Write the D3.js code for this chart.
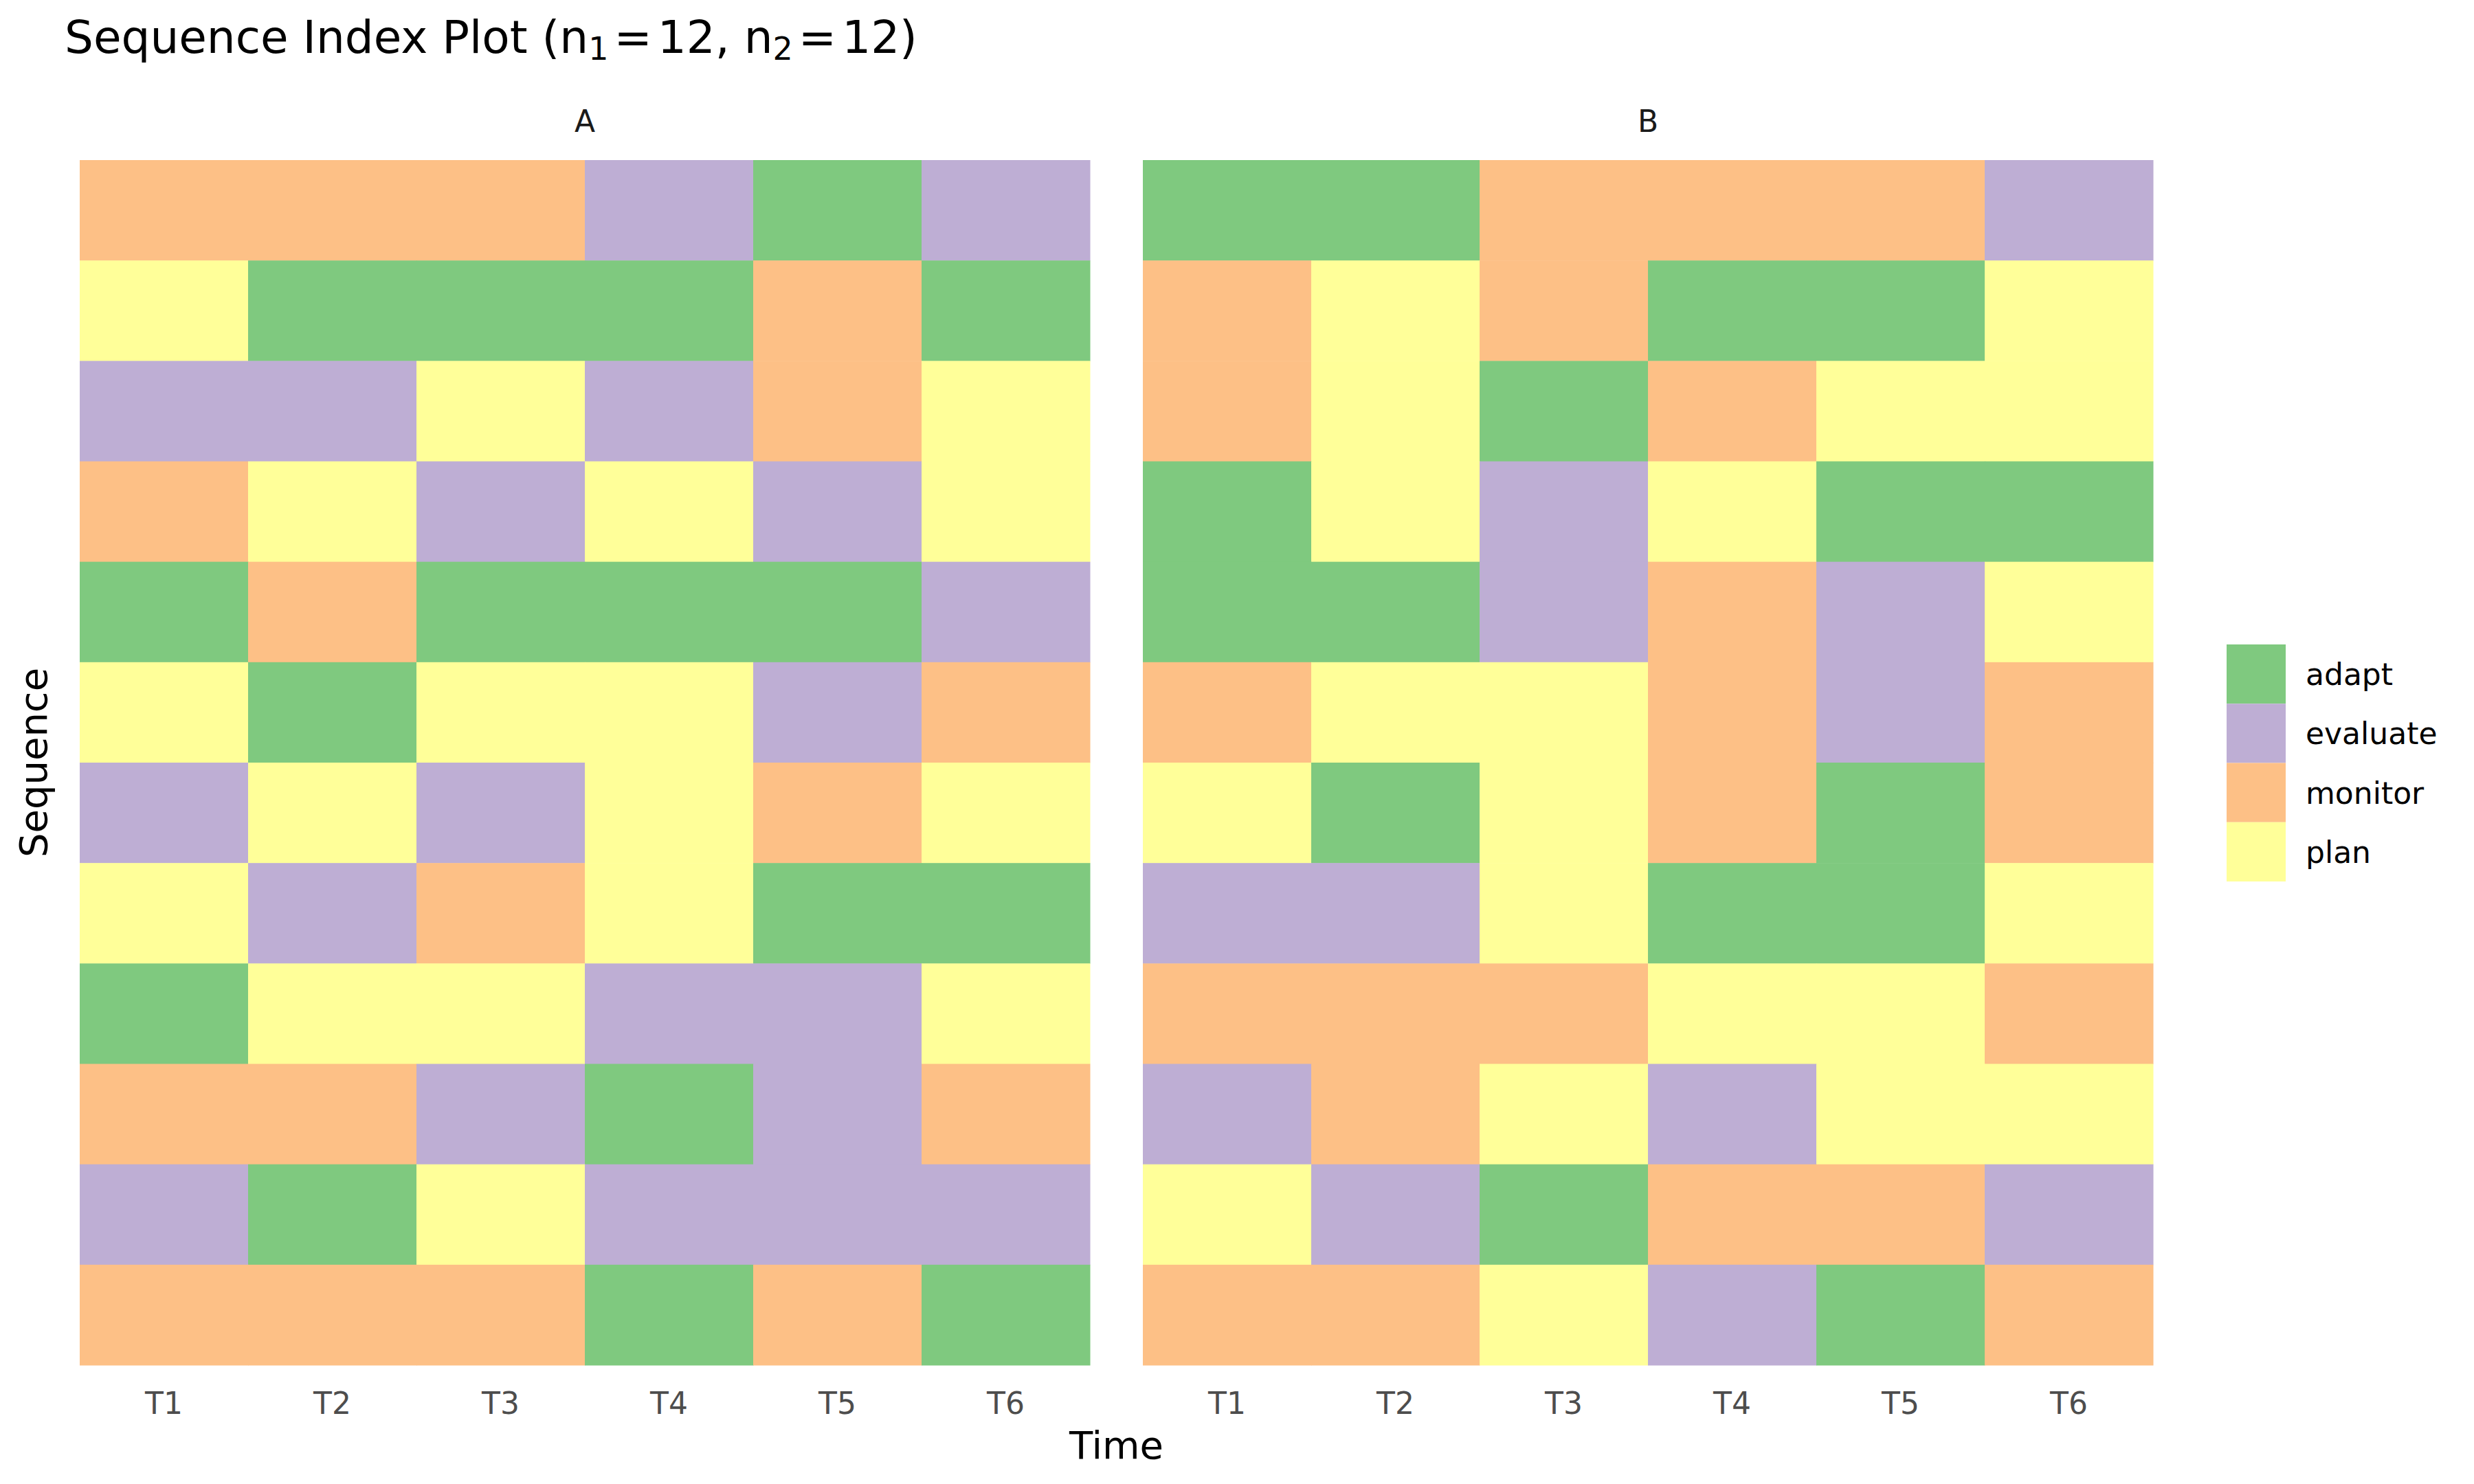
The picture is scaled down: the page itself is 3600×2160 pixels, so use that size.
<!DOCTYPE html>
<html>
<head>
<meta charset="utf-8">
<script src="https://cdn.jsdelivr.net/npm/d3@7"></script>
<style>
  body { margin: 0; background: #fff; }
  text { font-family: "DejaVu Sans", sans-serif; }
</style>
</head>
<body>
<div id="chart"></div>
<script>
// states and colours (Accent palette)
var states = ["adapt", "evaluate", "monitor", "plan"];
var stateColors = ["#7FC97F", "#BEAED4", "#FDC086", "#FFFF99"];
var timeLabels = ["T1", "T2", "T3", "T4", "T5", "T6"];
var groups = ["A", "B"];

// sequences, top row first
var seqA = [
  ["monitor", "monitor", "monitor", "evaluate", "adapt", "evaluate"],
  ["plan", "adapt", "adapt", "adapt", "monitor", "adapt"],
  ["evaluate", "evaluate", "plan", "evaluate", "monitor", "plan"],
  ["monitor", "plan", "evaluate", "plan", "evaluate", "plan"],
  ["adapt", "monitor", "adapt", "adapt", "adapt", "evaluate"],
  ["plan", "adapt", "plan", "plan", "evaluate", "monitor"],
  ["evaluate", "plan", "evaluate", "plan", "monitor", "plan"],
  ["plan", "evaluate", "monitor", "plan", "adapt", "adapt"],
  ["adapt", "plan", "plan", "evaluate", "evaluate", "plan"],
  ["monitor", "monitor", "evaluate", "adapt", "evaluate", "monitor"],
  ["evaluate", "adapt", "plan", "evaluate", "evaluate", "evaluate"],
  ["monitor", "monitor", "monitor", "adapt", "monitor", "adapt"]
];
var seqB = [
  ["adapt", "adapt", "monitor", "monitor", "monitor", "evaluate"],
  ["monitor", "plan", "monitor", "adapt", "adapt", "plan"],
  ["monitor", "plan", "adapt", "monitor", "plan", "plan"],
  ["adapt", "plan", "evaluate", "plan", "adapt", "adapt"],
  ["adapt", "adapt", "evaluate", "monitor", "evaluate", "plan"],
  ["monitor", "plan", "plan", "monitor", "evaluate", "monitor"],
  ["plan", "adapt", "plan", "monitor", "adapt", "monitor"],
  ["evaluate", "evaluate", "plan", "adapt", "adapt", "plan"],
  ["monitor", "monitor", "monitor", "plan", "plan", "monitor"],
  ["evaluate", "monitor", "plan", "evaluate", "plan", "plan"],
  ["plan", "evaluate", "adapt", "monitor", "monitor", "evaluate"],
  ["monitor", "monitor", "plan", "evaluate", "adapt", "monitor"]
];

var svgWidth = 3600;
var svgHeight = 2160;
var panelTop = 233, panelBottom = 1987;
var panelLefts = [116, 1663];
var panelWidth = 1470;

var svg = d3.select("#chart").append("svg")
  .attr("width", svgWidth)
  .attr("height", svgHeight);

var color = d3.scaleOrdinal().domain(states).range(stateColors);

var rowIds = d3.range(1, seqA.length + 1);
var y = d3.scaleBand().domain(rowIds).range([panelTop, panelBottom]).padding(0);

[seqA, seqB].forEach(function(seq, gi) {
  var x = d3.scaleBand().domain(timeLabels)
    .range([panelLefts[gi], panelLefts[gi] + panelWidth]).padding(0);

  var cells = [];
  seq.forEach(function(row, ri) {
    row.forEach(function(s, ti) {
      cells.push({ row: ri + 1, time: timeLabels[ti], state: s });
    });
  });

  var g = svg.append("g");
  g.selectAll("rect")
    .data(cells)
    .enter()
    .append("rect")
    .attr("x", function(d) { return x(d.time); })
    .attr("y", function(d) { return y(d.row); })
    .attr("width", x.bandwidth() + 0.5)
    .attr("height", y.bandwidth() + 0.5)
    .attr("fill", function(d) { return color(d.state); });

  // x axis
  var ax = svg.append("g")
    .attr("transform", "translate(0," + panelBottom + ")")
    .call(d3.axisBottom(x).tickSize(0).tickPadding(40));
  ax.select(".domain").remove();
  ax.selectAll("text")
    .style("font-family", "DejaVu Sans, sans-serif")
    .style("font-size", "44px")
    .attr("fill", "#4d4d4d");

  // strip label
  svg.append("text")
    .attr("x", panelLefts[gi] + panelWidth / 2)
    .attr("y", 192)
    .attr("text-anchor", "middle")
    .style("font-size", "44px")
    .attr("fill", "#1a1a1a")
    .text(groups[gi]);
});

// title with subscripts (plotmath-like tight spacing around "=")
var title = svg.append("text")
  .attr("x", 94)
  .attr("y", 77)
  .style("font-size", "66px")
  .attr("fill", "#000");
title.append("tspan").text("Sequence Index Plot (n");
title.append("tspan").attr("baseline-shift", "-22%").style("font-size", "46px").text("1");
title.append("tspan").attr("dx", 8).text("=");
title.append("tspan").attr("dx", 8).text("12, n");
title.append("tspan").attr("baseline-shift", "-22%").style("font-size", "46px").text("2");
title.append("tspan").attr("dx", 8).text("=");
title.append("tspan").attr("dx", 8).text("12)");

// axis titles
svg.append("text")
  .attr("x", (panelLefts[0] + panelLefts[1] + panelWidth) / 2)
  .attr("y", 2123)
  .attr("text-anchor", "middle")
  .style("font-size", "56px")
  .text("Time");

svg.append("text")
  .attr("transform", "translate(68," + (panelTop + panelBottom) / 2 + ") rotate(-90)")
  .attr("text-anchor", "middle")
  .style("font-size", "56px")
  .text("Sequence");

// legend
var legY = d3.scaleBand().domain(states).range([938, 1283]);
var leg = svg.append("g");
leg.selectAll("rect")
  .data(states)
  .enter()
  .append("rect")
  .attr("x", 3240)
  .attr("y", function(d) { return legY(d); })
  .attr("width", 86)
  .attr("height", legY.bandwidth())
  .attr("fill", function(d) { return color(d); });
leg.selectAll("text")
  .data(states)
  .enter()
  .append("text")
  .attr("x", 3355)
  .attr("y", function(d) { return legY(d) + legY.bandwidth() / 2 + 16; })
  .style("font-size", "44px")
  .text(function(d) { return d; });
</script>
</body>
</html>
